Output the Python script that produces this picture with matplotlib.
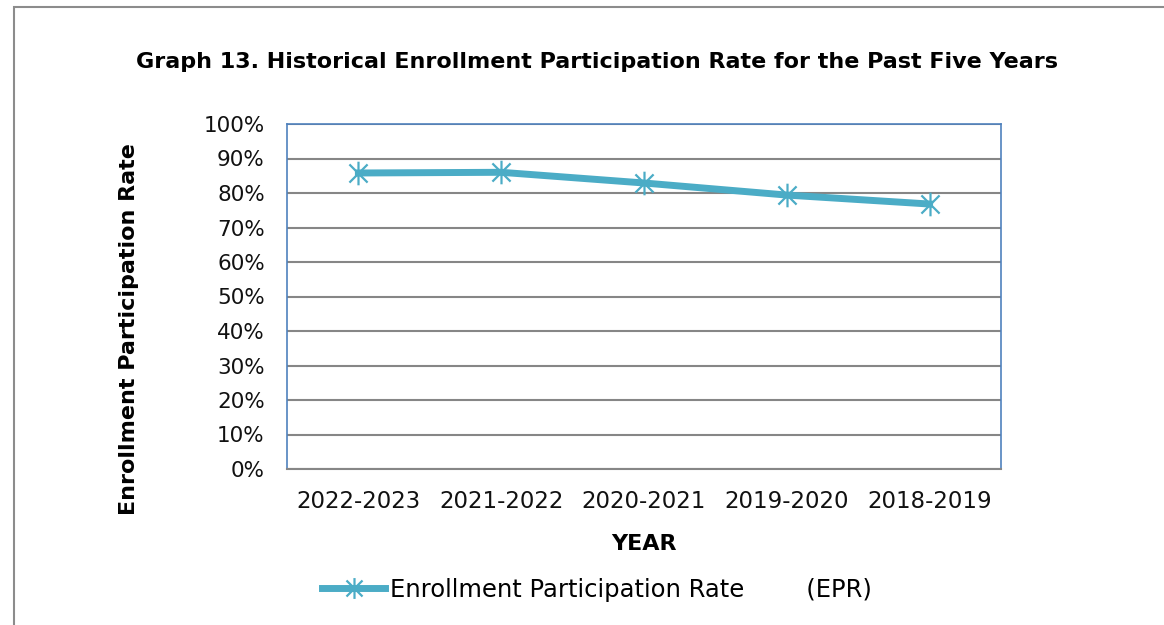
import matplotlib
matplotlib.use("Agg")
import matplotlib.pyplot as plt
from matplotlib.path import Path
from matplotlib.patches import Rectangle
from matplotlib.lines import Line2D

# data
years = ['2022-2023', '2021-2022', '2020-2021', '2019-2020', '2018-2019']
epr = [85.8, 86.0, 82.9, 79.4, 76.8]
yticks = [0, 10, 20, 30, 40, 50, 60, 70, 80, 90, 100]

plt.rcParams['font.family'] = ['DejaVu Sans']

line_color = '#4BACC6'
grid_color = '#868686'
frame_color = '#4F81BD'

# excel style star marker: an x with a vertical bar
star = Path([(-1, -1), (1, 1), (-1, 1), (1, -1), (0, -1.3), (0, 1.3)],
            [Path.MOVETO, Path.LINETO, Path.MOVETO, Path.LINETO, Path.MOVETO, Path.LINETO])

fig = plt.figure(figsize=(11.64, 6.25), dpi=100)

# outer chart border
fig.patches.append(Rectangle((14 / 1164, -0.1), 1.2, 1 - 7 / 625 + 0.1,
                             transform=fig.transFigure, fill=False,
                             edgecolor='#8c8c8c', linewidth=1.5))

ax = fig.add_axes([287 / 1164, 1 - 469 / 625, 714 / 1164, 345 / 625])

x = list(range(len(years)))
ax.plot(x, epr, color=line_color, linewidth=5, marker=star, markersize=17,
        markeredgewidth=1.6, markeredgecolor=line_color, zorder=3)

ax.set_xlim(-0.5, len(years) - 0.5)
ax.set_ylim(0, 100)
ax.set_yticks(yticks)
ax.set_yticklabels([f'{v}%' for v in yticks])
ax.set_xticks(x)
ax.set_xticklabels(years)
ax.tick_params(length=0, colors='#111111')
ax.tick_params(axis='x', pad=15, labelsize=16.5)
ax.tick_params(axis='y', pad=16, labelsize=15.5)

for v in yticks:
    ax.axhline(v, color=grid_color, linewidth=1.5, zorder=1)

for side in ['left', 'top', 'right']:
    ax.spines[side].set_color(frame_color)
    ax.spines[side].set_linewidth(1.2)
ax.spines['bottom'].set_color(grid_color)
ax.spines['bottom'].set_linewidth(1.5)

ax.set_xlabel('YEAR', fontsize=16, fontweight='bold')
ax.xaxis.set_label_coords(0.5, -(534 - 469) / 345)
ax.set_ylabel('Enrollment Participation Rate', fontsize=16, fontweight='bold')
ax.yaxis.set_label_coords(-(287 - 139) / 714, (469 - 329) / 345)

fig.text(597 / 1164, 1 - 62 / 625, 'Graph 13. Historical Enrollment Participation Rate for the Past Five Years',
         ha='center', va='center', fontsize=16, fontweight='bold')

handle = Line2D([], [], color=line_color, linewidth=5, marker=star, markersize=15,
                markeredgewidth=1.6)
fig.legend([handle], ['Enrollment Participation Rate        (EPR)'],
           loc='center', bbox_to_anchor=(597 / 1164, 1 - 590 / 625),
           frameon=False, fontsize=17.5, handlelength=2.6, handletextpad=0.2)

fig.savefig('out.png', dpi=100)
